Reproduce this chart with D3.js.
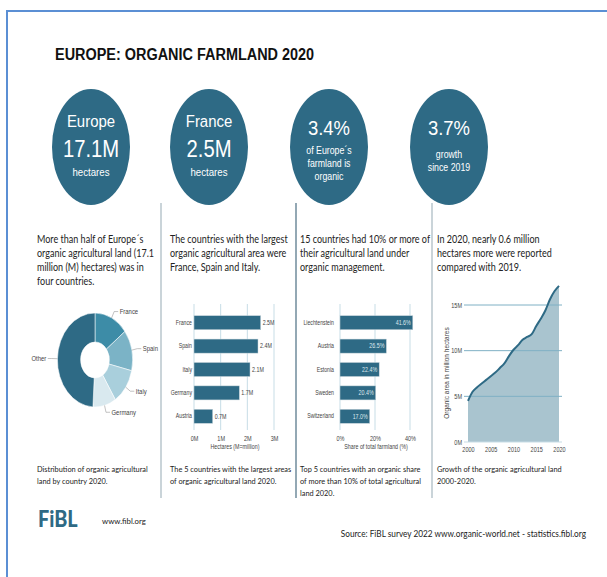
<!DOCTYPE html>
<meta charset="utf-8">
<style>
body { margin: 0; background: #fff; }
svg text { font-family: "Liberation Sans", sans-serif; }
.gill { font-family: Lato, sans-serif; fill: #222; }
.tick-lbl { font-size: 6.5px; fill: #444; }
</style>
<body>
<script src="https://cdn.jsdelivr.net/npm/d3@7/dist/d3.min.js"></script>
<script>

// ---- data ----
var statTop = ["Europe", "France", "", ""];
var statBig = ["17.1M", "2.5M", "3.4%", "3.7%"];
var statSub = [["hectares"], ["hectares"], ["of Europe´s", "farmland is", "organic"], ["growth", "since 2019"]];

var introText = [
  ["More than half of Europe´s", "organic agricultural land (17.1", "million (M) hectares) was in", "four countries."],
  ["The countries with the largest", "organic agricultural area were", "France, Spain and Italy."],
  ["15 countries had 10% or more of", "their agricultural land under", "organic management."],
  ["In 2020, nearly 0.6 million", "hectares more were reported", "compared with 2019."]
];
var captions = [
  ["Distribution of organic agricultural", "land by country 2020."],
  ["The 5 countries with the largest areas", "of organic agricultural land 2020."],
  ["Top 5 countries with an organic  share", "of more than 10% of total agricultural", "land 2020."],
  ["Growth of the organic agricultural land", "2000-2020."]
];

var pieLabels = ["France", "Spain", "Italy", "Germany", "Other"];
var pieValues = [2.5, 2.4, 2.1, 1.7, 8.4];
var pieColors = ["#3d8ca7", "#7bb3c6", "#a9cfdc", "#d9e9ef", "#2e6a85"];

var topCountries = ["France", "Spain", "Italy", "Germany", "Austria"];
var topHectares = [2.5, 2.4, 2.1, 1.7, 0.7];
var hectareTicks = [0, 1, 2, 3];

var shareCountries = ["Liechtenstein", "Austria", "Estonia", "Sweden", "Switzerland"];
var shareValues = [41.6, 26.5, 22.4, 20.4, 17.0];
var shareTicks = [0, 20, 40];

var years = [2000, 2001, 2002, 2003, 2004, 2005, 2006, 2007, 2008, 2009, 2010,
             2011, 2012, 2013, 2014, 2015, 2016, 2017, 2018, 2019, 2020];
var areaValues = [4.5, 5.5, 6.0, 6.4, 6.8, 7.2, 7.6, 8.1, 8.6, 9.4, 10.1,
                  10.6, 11.2, 11.5, 11.8, 12.7, 13.5, 14.4, 15.6, 16.5, 17.1];
var areaYTicks = [0, 5, 10, 15];
var areaXTicks = [2000, 2005, 2010, 2015, 2020];

var dark = "#2e6a85";

var svg = d3.select("body").append("svg")
    .attr("width", 607)
    .attr("height", 577);

// narrow text: the source is squeezed horizontally, so scale x only
function ctext(parent, x, y, str, k) {
  return parent.append("text")
      .attr("transform", "translate(" + x + "," + y + ") scale(" + k + ",1)")
      .text(str);
}
function squeezeAxis(g, k) {
  g.select(".domain").remove();
  g.selectAll("text")
      .attr("class", "tick-lbl")
      .style("font-family", null)
      .attr("transform", "scale(" + k + ",1)");
}

// frame
svg.append("path")
    .attr("d", "M7,577 L7,11 L607,11")
    .attr("fill", "none")
    .attr("stroke", "#5b8fd4")
    .attr("stroke-width", 2);

// title
ctext(svg, 55, 60, "EUROPE: ORGANIC FARMLAND 2020", 0.85)
    .style("font-size", "17px").style("font-weight", "bold").attr("fill", "#111");

// circles
var cx = [91, 209, 329, 449];
var circ = svg.selectAll("g.stat").data(statBig).enter().append("g")
    .attr("class", "stat")
    .attr("transform", function(d, i) { return "translate(" + cx[i] + ",147)"; });

circ.append("ellipse").attr("rx", 39).attr("ry", 58).attr("fill", dark);

circ.each(function(d, i) {
  var g = d3.select(this);
  if (statTop[i]) {
    ctext(g, 0, -20, statTop[i], 0.88).attr("text-anchor", "middle").attr("fill", "#fff")
        .style("font-size", "17px");
  }
  ctext(g, 0, statTop[i] ? 10 : -12, d, 0.88).attr("text-anchor", "middle").attr("fill", "#fff")
      .style("font-size", statTop[i] ? "23px" : "21px");
  statSub[i].forEach(function(s, j) {
    var y0 = i < 2 ? 29 : (i == 2 ? 7 : 11);
    var fs = i < 2 ? 11 : 10;
    ctext(g, 0, y0 + j * 13, s, 0.88).attr("text-anchor", "middle").attr("fill", "#fff")
        .style("font-size", fs + "px");
  });
});

// dividers
var divX = [161, 296, 432];
svg.selectAll("line.div").data(divX).enter().append("line")
    .attr("x1", function(d) { return d; }).attr("x2", function(d) { return d; })
    .attr("y1", 203).attr("y2", 498)
    .attr("stroke", function(d, i) { return i == 1 ? "#6f8b9b" : "#b9c6cd"; })
    .attr("stroke-width", 1.5);

var textX = [37, 170, 300, 437];

introText.forEach(function(lines, i) {
  lines.forEach(function(s, j) {
    ctext(svg, textX[i], 243 + j * 14, s, 0.86).attr("class", "gill").style("font-size", "10.5px");
  });
});

captions.forEach(function(lines, i) {
  lines.forEach(function(s, j) {
    ctext(svg, textX[i], 472 + j * 12, s, 0.89).attr("class", "gill").style("font-size", "8.3px");
  });
});

// ---- donut ----
var pie = d3.pie().sort(null)(pieValues);
var R = 47, r0 = 18, sx = 0.8;
var arc = d3.arc().innerRadius(r0).outerRadius(R);
var donut = svg.append("g").attr("transform", "translate(95,360)");
donut.append("g").attr("transform", "scale(" + sx + ",1)")
  .selectAll("path").data(pie).enter().append("path")
    .attr("d", arc)
    .attr("fill", function(d, i) { return pieColors[i]; })
    .attr("stroke", "#fff").attr("stroke-width", 0.6);

pie.forEach(function(d, i) {
  var a = (d.startAngle + d.endAngle) / 2;
  var p = function(k) { return [sx * k * R * Math.sin(a), -k * R * Math.cos(a)]; };
  var p1 = p(1), p2 = p(1.15);
  var right = Math.sin(a) >= 0;
  var p3 = [p2[0] + (right ? 4 : -4), p2[1]];
  donut.append("polyline")
      .attr("points", [p1, p2, p3].map(function(q) { return q.join(","); }).join(" "))
      .attr("fill", "none").attr("stroke", "#999").attr("stroke-width", 0.6);
  ctext(donut, p3[0] + (right ? 1.5 : -1.5), p3[1] + 2.3, pieLabels[i], 0.85)
      .attr("text-anchor", right ? "start" : "end")
      .attr("class", "tick-lbl").style("font-size", "7px");
});

// ---- bar chart: hectares ----
var xH = d3.scaleLinear().domain([0, 3]).range([194, 274]);
var yH = d3.scaleBand().domain(topCountries).range([311, 428]).paddingInner(0.4).paddingOuter(0.2);

svg.append("g").selectAll("line").data(hectareTicks).enter().append("line")
    .attr("x1", xH).attr("x2", xH).attr("y1", 304).attr("y2", 430)
    .attr("stroke", "#c7dde6").attr("stroke-width", 1);

svg.append("g").selectAll("rect").data(topHectares).enter().append("rect")
    .attr("x", xH(0)).attr("y", function(d, i) { return yH(topCountries[i]); })
    .attr("width", function(d) { return xH(d) - xH(0); })
    .attr("height", yH.bandwidth())
    .attr("fill", dark).attr("stroke", "#c9d6dc").attr("stroke-width", 0.5);

topHectares.forEach(function(d, i) {
  ctext(svg, xH(d) + 2, yH(topCountries[i]) + yH.bandwidth() / 2 + 2.3, d.toFixed(1) + "M", 0.82)
      .attr("class", "tick-lbl");
});

svg.append("g").attr("transform", "translate(0,430)")
    .call(d3.axisBottom(xH).tickValues(hectareTicks).tickSize(0).tickPadding(6).tickFormat(function(d) { return d + "M"; }))
    .call(squeezeAxis, 0.85);

svg.append("g").attr("transform", "translate(192,0)")
    .call(d3.axisLeft(yH).tickSize(0).tickPadding(0))
    .call(squeezeAxis, 0.8);

ctext(svg, 235, 449, "Hectares (M=million)", 0.82).attr("class", "tick-lbl").attr("text-anchor", "middle");

// ---- bar chart: share ----
var xS = d3.scaleLinear().domain([0, 40]).range([340, 410]);
var yS = d3.scaleBand().domain(shareCountries).range([311, 428]).paddingInner(0.4).paddingOuter(0.2);

svg.append("g").selectAll("line").data(shareTicks).enter().append("line")
    .attr("x1", xS).attr("x2", xS).attr("y1", 304).attr("y2", 430)
    .attr("stroke", "#c7dde6").attr("stroke-width", 1);

svg.append("g").selectAll("rect").data(shareValues).enter().append("rect")
    .attr("x", xS(0)).attr("y", function(d, i) { return yS(shareCountries[i]); })
    .attr("width", function(d) { return xS(d) - xS(0); })
    .attr("height", yS.bandwidth())
    .attr("fill", dark).attr("stroke", "#c9d6dc").attr("stroke-width", 0.5);

shareValues.forEach(function(d, i) {
  ctext(svg, xS(d) - 2, yS(shareCountries[i]) + yS.bandwidth() / 2 + 2.3, d.toFixed(1) + "%", 0.82)
      .attr("class", "tick-lbl").attr("text-anchor", "end").style("fill", "#dfe9ee");
});

svg.append("g").attr("transform", "translate(0,430)")
    .call(d3.axisBottom(xS).tickValues(shareTicks).tickSize(0).tickPadding(6).tickFormat(function(d) { return d + "%"; }))
    .call(squeezeAxis, 0.85);

svg.append("g").attr("transform", "translate(334,0)")
    .call(d3.axisLeft(yS).tickSize(0).tickPadding(0))
    .call(squeezeAxis, 0.8);

ctext(svg, 376, 449, "Share of total farmland (%)", 0.82).attr("class", "tick-lbl").attr("text-anchor", "middle");

// ---- area chart ----
var xA = d3.scaleLinear().domain([2000, 2020]).range([468, 559]);
var yA = d3.scaleLinear().domain([0, 15]).range([442, 305]);

svg.append("path")
    .datum(areaValues)
    .attr("d", d3.area().curve(d3.curveMonotoneX)
        .x(function(d, i) { return xA(years[i]); }).y0(yA(0)).y1(function(d) { return yA(d); }))
    .attr("fill", "#a9c4cf");

svg.append("g").selectAll("line").data(areaYTicks).enter().append("line")
    .attr("x1", 464).attr("x2", 562)
    .attr("y1", yA).attr("y2", yA)
    .attr("stroke", function(d) { return d == 0 ? "#c7dde6" : "#7fb0c4"; }).attr("stroke-width", 1);

svg.append("path")
    .datum(areaValues)
    .attr("d", d3.line().curve(d3.curveMonotoneX)
        .x(function(d, i) { return xA(years[i]); }).y(function(d) { return yA(d); }))
    .attr("fill", "none").attr("stroke", dark).attr("stroke-width", 2);

svg.append("g").attr("transform", "translate(462,0)")
    .call(d3.axisLeft(yA).tickValues(areaYTicks).tickSize(0).tickPadding(0).tickFormat(function(d) { return d + "M"; }))
    .call(squeezeAxis, 0.85);

svg.append("g").attr("transform", "translate(0,443)")
    .call(d3.axisBottom(xA).tickValues(areaXTicks).tickSize(0).tickPadding(4).tickFormat(d3.format("d")))
    .call(squeezeAxis, 0.85);

svg.append("text").attr("class", "tick-lbl")
    .attr("transform", "translate(449,373) rotate(-90)")
    .attr("text-anchor", "middle")
    .text("Organic area in million hectares");

// ---- footer ----
ctext(svg, 38, 527, "FiBL", 0.9)
    .style("font-family", "Lato").style("font-weight", 900).style("font-size", "22px")
    .attr("fill", dark);

ctext(svg, 102, 524, "www.fibl.org", 0.92).attr("class", "gill").style("font-size", "8.5px");

ctext(svg, 586, 537, "Source: FiBL survey 2022 www.organic-world.net - statistics.fibl.org", 0.87)
    .attr("class", "gill").attr("text-anchor", "end").style("font-size", "9.5px");

</script>
